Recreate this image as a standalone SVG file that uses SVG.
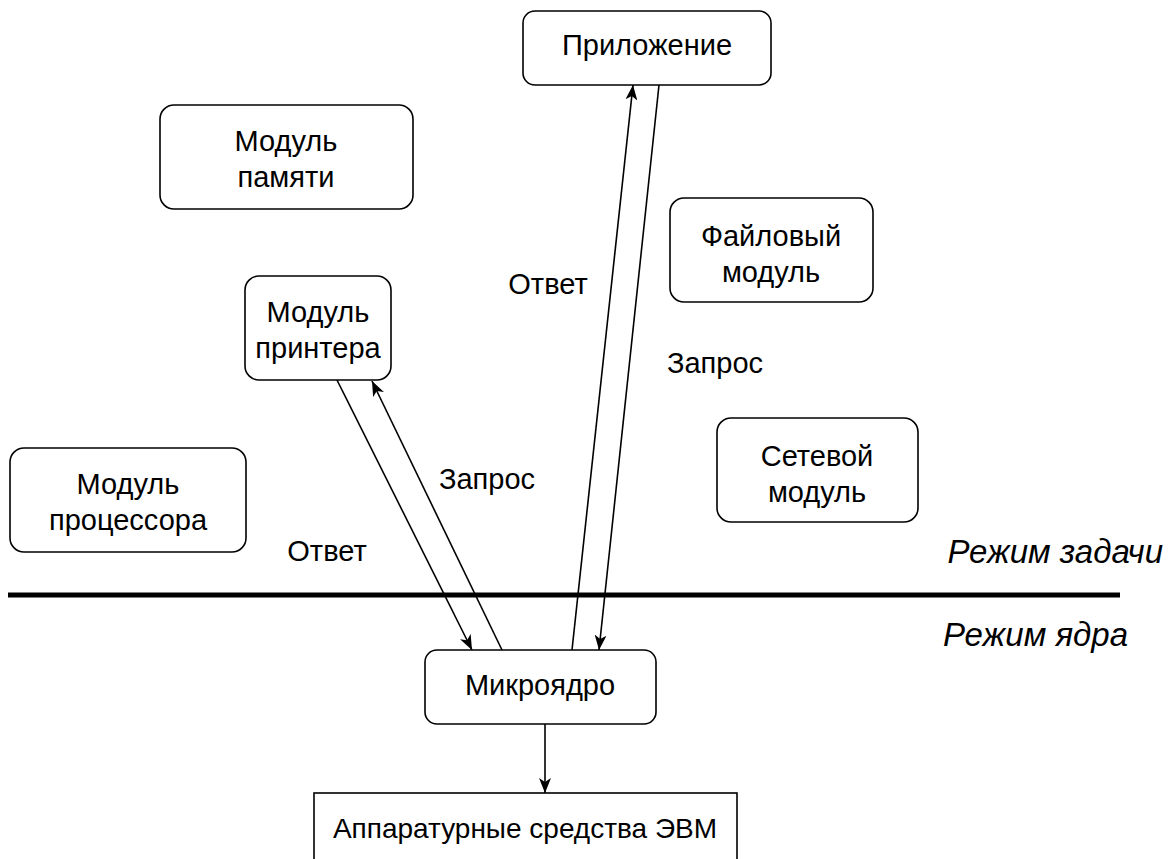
<svg xmlns="http://www.w3.org/2000/svg" width="1174" height="859" viewBox="0 0 1174 859">
<style>
.n{fill:#fff;stroke:#000;stroke-width:1.6}
.t{font-family:'Liberation Sans',Arial,sans-serif;font-size:29px;fill:#000;text-anchor:middle}
.i{font-family:'Liberation Sans',Arial,sans-serif;font-size:33px;font-style:italic;fill:#000;text-anchor:end}
.c{stroke:#000;stroke-width:1.6;fill:none}
</style>
<defs>
<marker id="ah" markerUnits="userSpaceOnUse" markerWidth="16" markerHeight="12" refX="15" refY="6" orient="auto">
<path d="M0,0 L15,6 L0,12 L4,6 z" fill="#000"/>
</marker>
</defs>
<rect width="1174" height="859" fill="#fff"/>
<g id="connectors">
<line class="c" x1="337" y1="380" x2="472" y2="650" marker-end="url(#ah)"/>
<line class="c" x1="502" y1="650" x2="372" y2="381" marker-end="url(#ah)"/>
<line class="c" x1="572" y1="650" x2="633" y2="85" marker-end="url(#ah)"/>
<line class="c" x1="659" y1="85" x2="599" y2="650" marker-end="url(#ah)"/>
<line class="c" x1="545" y1="724" x2="545" y2="793" marker-end="url(#ah)"/>
<line x1="8" y1="595" x2="1120" y2="595" stroke="#000" stroke-width="5"/>
</g>
<g id="labels">
<text class="t" x="548" y="294">Ответ</text>
<text class="t" x="715" y="373">Запрос</text>
<text class="t" x="487" y="489">Запрос</text>
<text class="t" x="327" y="561">Ответ</text>
<text class="i" x="1163" y="563">Режим задачи</text>
<text class="i" x="1128" y="646">Режим ядра</text>
</g>
<g id="app"><rect class="n" x="523" y="11" width="248" height="74" rx="12"/><text class="t" x="647" y="55">Приложение</text></g>
<g id="mem"><rect class="n" x="160" y="105" width="253" height="104" rx="14"/><text class="t" x="286" y="151">Модуль</text><text class="t" x="286" y="187">памяти</text></g>
<g id="file"><rect class="n" x="670" y="198" width="203" height="104" rx="14"/><text class="t" x="771" y="246">Файловый</text><text class="t" x="771" y="282">модуль</text></g>
<g id="printer"><rect class="n" x="245" y="276" width="146" height="104" rx="14"/><text class="t" x="318" y="322">Модуль</text><text class="t" x="318" y="358">принтера</text></g>
<g id="net"><rect class="n" x="717" y="418" width="201" height="104" rx="14"/><text class="t" x="817" y="466">Сетевой</text><text class="t" x="817" y="502">модуль</text></g>
<g id="cpu"><rect class="n" x="10" y="448" width="236" height="104" rx="14"/><text class="t" x="128" y="494">Модуль</text><text class="t" x="128" y="530">процессора</text></g>
<g id="kernel"><rect class="n" x="425" y="650" width="231" height="74" rx="12"/><text class="t" x="540" y="695">Микроядро</text></g>
<g id="hw"><rect class="n" x="314" y="793" width="423" height="90"/><text class="t" x="525" y="838" style="font-size:28px">Аппаратурные средства ЭВМ</text></g>
</svg>
